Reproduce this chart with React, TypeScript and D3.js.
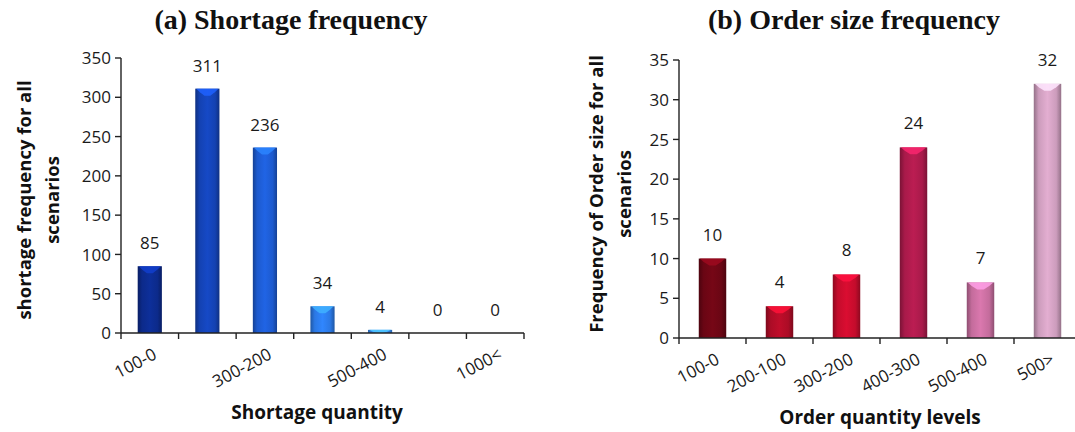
import React from "react";
import * as d3 from "d3";

const shortageCategories = ["100-0", "200-100", "300-200", "400-300", "500-400", "1000-500", "1000<"];
const shortageValues = [85, 311, 236, 34, 4, 0, 0];
const shortageTicks = [0, 50, 100, 150, 200, 250, 300, 350];
const shortageColors = ["#0c2a8a", "#1442b2", "#1d5ace", "#2b78e4", "#3688ee", "#3688ee", "#3688ee"];

const orderCategories = ["100-0", "200-100", "300-200", "400-300", "500-400", "500>"];
const orderValues = [10, 4, 8, 24, 7, 32];
const orderTicks = [0, 5, 10, 15, 20, 25, 30, 35];
const orderColors = ["#6a0614", "#ac0c26", "#c40c2c", "#a81a4a", "#c46c9c", "#cc9cbc"];

const FONT = "'Open Sans', 'DejaVu Sans', sans-serif";

type PanelProps = {
  id: string;
  title: string;
  titleX: number;
  cats: string[];
  vals: number[];
  ticks: number[];
  colors: string[];
  x0: number;
  x1: number;
  yTop: number;
  yBot: number;
  yMax: number;
  yTitle: string[];
  yTitleX: number[];
  yTitleY: number;
  xTitle: string;
  xTitleX: number;
  xTitleY: number;
  showEvery: number;
  barFrac: number;
  labelPad: number;
};

function Panel(p: PanelProps) {
  const x = d3.scaleBand<string>().domain(p.cats).range([p.x0, p.x1]).paddingInner(0).paddingOuter(0);
  const y = d3.scaleLinear().domain([0, p.yMax]).range([p.yBot, p.yTop]);
  const bw = x.bandwidth() * p.barFrac;
  return (
    <g>
      <defs>
        {p.colors.map((c, i) => {
          const base = d3.color(c)!;
          return (
            <linearGradient key={i} id={`${p.id}g${i}`} x1="0" x2="1" y1="0" y2="0">
              <stop offset="0" stopColor={base.darker(0.9).formatHex()} />
              <stop offset="0.18" stopColor={base.formatHex()} />
              <stop offset="0.5" stopColor={base.brighter(0.3).formatHex()} />
              <stop offset="0.82" stopColor={base.formatHex()} />
              <stop offset="1" stopColor={base.darker(0.9).formatHex()} />
            </linearGradient>
          );
        })}
      </defs>
      <text x={p.titleX} y={29} textAnchor="middle" fontFamily="'Liberation Serif', 'Times New Roman', serif" fontWeight="bold" fontSize={28} fill="#111">
        {p.title}
      </text>
      {p.vals.map((v, i) => {
        const cx = x(p.cats[i])! + x.bandwidth() / 2;
        const top = y(v);
        const h = p.yBot - top;
        const base = d3.color(p.colors[i])!;
        const capH = Math.min(7, h);
        const inset = Math.min(bw * 0.3, 8);
        return (
          <g key={i}>
            {h > 0 && (
              <>
                <rect x={cx - bw / 2} y={top} width={bw} height={h} fill={`url(#${p.id}g${i})`} />
                <path
                  d={`M${cx - bw / 2 + 1},${top} L${cx + bw / 2 - 1},${top} L${cx + bw / 2 - 1 - inset * 0.5},${top + capH * 0.5} L${cx + inset * 0.4},${top + capH} L${cx - inset * 0.4},${top + capH} L${cx - bw / 2 + 1 + inset * 0.5},${top + capH * 0.5} Z`}
                  fill={base.brighter(1.1).formatHex()}
                  opacity={0.85}
                />
              </>
            )}
            <text x={cx} y={top - p.labelPad} textAnchor="middle" fontFamily={FONT} fontSize={17} fill="#1a1a1a">
              {v}
            </text>
          </g>
        );
      })}
      <line x1={p.x0} x2={p.x0} y1={p.yTop} y2={p.yBot} stroke="#222" strokeWidth={1.4} />
      <line x1={p.x0} x2={p.x1} y1={p.yBot} y2={p.yBot} stroke="#222" strokeWidth={1.4} />
      {p.ticks.map((t) => (
        <g key={t}>
          <line x1={p.x0 - 6} x2={p.x0} y1={y(t)} y2={y(t)} stroke="#222" strokeWidth={1.4} />
          <text x={p.x0 - 10} y={y(t)} dy="0.36em" textAnchor="end" fontFamily={FONT} fontSize={17} fill="#1a1a1a">
            {t}
          </text>
        </g>
      ))}
      {p.cats.map((c, i) => (
        <line key={"t" + i} x1={x(c)!} x2={x(c)!} y1={p.yBot} y2={p.yBot + 6} stroke="#222" strokeWidth={1.4} />
      ))}
      <line x1={p.x1} x2={p.x1} y1={p.yBot} y2={p.yBot + 6} stroke="#222" strokeWidth={1.4} />
      {p.cats.map((c, i) =>
        i % p.showEvery === 0 ? (
          <text
            key={"l" + i}
            transform={`translate(${x(c)! + x.bandwidth() / 2 + 8},${p.yBot + 25}) rotate(-28)`}
            textAnchor="end"
            fontFamily={FONT}
            fontSize={17}
            fill="#1a1a1a"
          >
            {c}
          </text>
        ) : null
      )}
      {p.yTitle.map((t, i) => (
        <text
          key={"yt" + i}
          transform={`translate(${p.yTitleX[i]},${p.yTitleY}) rotate(-90)`}
          textAnchor="middle"
          dy="0.35em"
          fontFamily={FONT}
          fontWeight="bold"
          fontSize={18.5}
          fill="#111"
        >
          {t}
        </text>
      ))}
      <text x={p.xTitleX} y={p.xTitleY} textAnchor="middle" fontFamily={FONT} fontWeight="bold" fontSize={19} fill="#111">
        {p.xTitle}
      </text>
    </g>
  );
}

export default function App() {
  return (
    <svg width={1075} height={432} style={{ position: "absolute", left: 0, top: 0, background: "#fff" }}>
      <rect width={1075} height={432} fill="#fff" />
      <Panel
        id="a"
        title="(a) Shortage frequency"
        titleX={291}
        cats={shortageCategories}
        vals={shortageValues}
        ticks={shortageTicks}
        colors={shortageColors}
        x0={121}
        x1={524}
        yTop={58}
        yBot={333}
        yMax={350}
        yTitle={["shortage frequency for all", "scenarios"]}
        yTitleX={[25, 53]}
        yTitleY={200}
        xTitle="Shortage quantity"
        xTitleX={317}
        xTitleY={419}
        showEvery={2}
        barFrac={0.42}
        labelPad={17}
      />
      <Panel
        id="b"
        title="(b) Order size frequency"
        titleX={854}
        cats={orderCategories}
        vals={orderValues}
        ticks={orderTicks}
        colors={orderColors}
        x0={679}
        x1={1081}
        yTop={60}
        yBot={338}
        yMax={35}
        yTitle={["Frequency of Order size for all", "scenarios"]}
        yTitleX={[597, 625]}
        yTitleY={194}
        xTitle="Order quantity levels"
        xTitleX={880}
        xTitleY={424}
        showEvery={1}
        barFrac={0.41}
        labelPad={18}
      />
    </svg>
  );
}
